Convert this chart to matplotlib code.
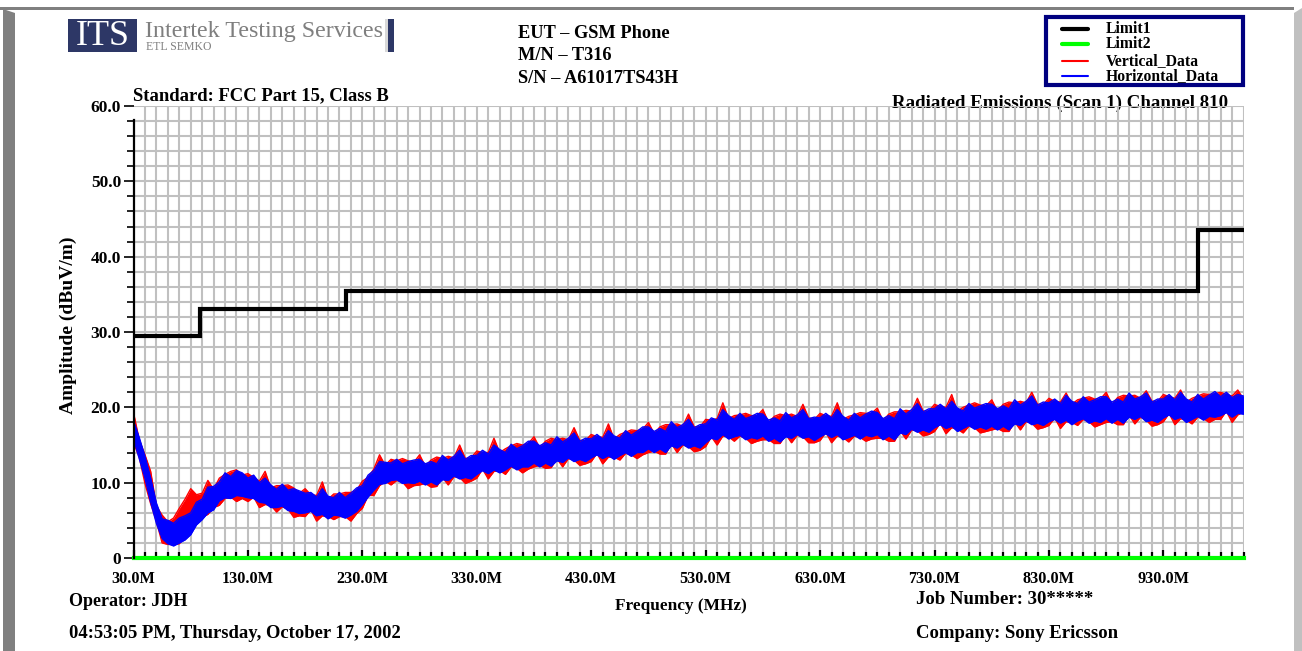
import numpy as np
import matplotlib
matplotlib.use("Agg")
import matplotlib.pyplot as plt
from matplotlib.patches import Rectangle, Polygon
from matplotlib.lines import Line2D

# ---------------- data ----------------
# traces read as max/min envelope of each 5 MHz bin (dBuV/m)
freq_start, freq_stop, freq_step = 30, 1000, 5
limit1_freq = [30, 88, 88, 216, 216, 960, 960, 1000]
limit1_level = [29.5, 29.5, 33.0, 33.0, 35.5, 35.5, 43.5, 43.5]
limit2_freq = [30, 1000]
limit2_level = [0.0, 0.0]

horizontal_max = [
    18.2, 16.0, 13.5, 10.6, 7.3, 5.2, 5.0, 4.6, 5.3, 5.6,
    6.0, 7.4, 7.8, 9.4, 9.5, 10.1, 11.3, 10.8, 11.6, 11.3,
    10.6, 11.0, 10.0, 10.6, 9.7, 9.1, 9.8, 9.0, 9.2, 8.9,
    8.6, 8.7, 8.1, 9.2, 8.2, 8.0, 8.7, 8.0, 8.6, 9.3,
    9.6, 11.0, 11.6, 12.8, 12.7, 12.6, 13.1, 12.5, 12.8, 13.0,
    13.1, 12.5, 12.8, 12.5, 13.6, 13.0, 13.5, 14.3, 13.1, 13.6,
    13.6, 14.3, 13.8, 15.0, 14.4, 14.0, 15.1, 14.5, 14.9, 15.5,
    15.5, 14.9, 15.3, 15.0, 16.1, 15.4, 15.9, 16.6, 15.5, 15.9,
    15.8, 16.4, 15.8, 16.9, 16.2, 15.9, 16.9, 16.3, 16.8, 17.4,
    17.4, 16.8, 17.2, 16.8, 18.1, 17.3, 17.7, 18.4, 17.3, 17.7,
    17.8, 18.6, 18.3, 19.7, 18.9, 18.4, 19.2, 18.5, 18.8, 19.2,
    19.1, 18.3, 18.6, 18.2, 19.3, 18.6, 19.0, 19.7, 18.5, 18.7,
    18.6, 19.2, 18.6, 19.7, 18.8, 18.3, 19.2, 18.6, 19.1, 19.5,
    19.3, 18.5, 18.9, 18.5, 19.8, 19.1, 19.7, 20.5, 19.4, 19.8,
    19.8, 20.4, 19.8, 20.8, 19.9, 19.5, 20.5, 19.9, 20.2, 20.5,
    20.4, 19.8, 20.2, 19.8, 21.0, 20.3, 20.8, 21.5, 20.3, 20.7,
    20.6, 21.1, 20.5, 21.6, 20.8, 20.5, 21.4, 20.7, 21.0, 21.4,
    21.4, 20.7, 21.1, 20.7, 21.9, 21.1, 21.4, 21.9, 20.7, 21.1,
    21.1, 21.7, 21.0, 22.0, 21.1, 20.7, 21.7, 21.1, 21.6, 22.1,
    21.4, 22.0, 21.3, 21.7, 21.5,
]
horizontal_min = [
    15.8, 13.2, 10.6, 7.4, 4.6, 2.6, 1.9, 1.6, 2.0, 2.4,
    3.1, 4.4, 5.1, 6.0, 6.4, 7.6, 8.0, 7.9, 8.3, 8.2,
    8.0, 7.9, 7.4, 7.3, 6.7, 6.7, 6.9, 6.3, 6.2, 5.9,
    6.0, 6.2, 5.6, 5.8, 5.2, 5.7, 5.6, 5.3, 5.7, 6.2,
    7.1, 8.1, 9.0, 9.8, 9.9, 10.3, 10.4, 9.9, 10.0, 9.9,
    10.2, 9.7, 10.1, 9.7, 10.4, 10.3, 10.9, 10.5, 10.7, 10.5,
    11.1, 11.6, 11.2, 11.7, 11.3, 11.7, 12.2, 11.7, 12.1, 12.1,
    12.6, 12.1, 12.6, 12.2, 12.9, 12.7, 13.3, 12.8, 13.1, 12.8,
    13.3, 13.7, 13.2, 13.6, 13.1, 13.6, 14.0, 13.5, 14.0, 14.0,
    14.5, 14.0, 14.5, 14.0, 14.9, 14.6, 15.1, 14.6, 14.9, 14.6,
    15.3, 15.9, 15.7, 16.4, 15.8, 16.1, 16.3, 15.7, 16.0, 15.8,
    16.2, 15.5, 15.9, 15.4, 16.1, 15.9, 16.4, 15.9, 16.1, 15.6,
    16.1, 16.5, 16.0, 16.4, 15.7, 16.0, 16.3, 15.8, 16.3, 16.1,
    16.4, 15.7, 16.2, 15.7, 16.6, 16.4, 17.1, 16.7, 17.0, 16.7,
    17.3, 17.7, 17.2, 17.5, 16.8, 17.2, 17.6, 17.1, 17.4, 17.1,
    17.5, 17.0, 17.5, 17.0, 17.8, 17.6, 18.2, 17.7, 17.9, 17.6,
    18.1, 18.4, 17.9, 18.3, 17.7, 18.2, 18.5, 17.9, 18.2, 18.0,
    18.5, 17.9, 18.4, 17.9, 18.7, 18.4, 18.8, 18.1, 18.3, 18.0,
    18.6, 19.0, 18.4, 18.7, 18.0, 18.4, 18.8, 18.3, 18.8, 18.7,
    18.9, 19.3, 18.7, 19.2, 19.1,
]

vertical_max = [
    19.3, 15.7, 13.7, 11.5, 6.9, 5.7, 4.8, 5.3, 6.6, 7.8,
    9.2, 8.4, 8.6, 10.3, 9.1, 10.6, 11.1, 11.5, 11.7, 11.0,
    11.2, 10.7, 10.2, 11.5, 9.3, 9.6, 9.6, 9.7, 9.3, 8.6,
    9.2, 8.4, 8.3, 10.1, 7.8, 8.5, 8.5, 8.7, 8.7, 9.0,
    10.2, 10.7, 11.8, 13.7, 12.3, 13.1, 12.9, 13.2, 12.9, 12.7,
    13.7, 12.2, 13.0, 13.4, 13.2, 13.5, 13.3, 15.0, 13.2, 13.3,
    14.2, 14.0, 14.0, 15.9, 14.0, 14.5, 14.9, 15.2, 15.0, 15.2,
    16.1, 14.6, 15.5, 15.9, 15.7, 15.9, 15.7, 17.3, 15.6, 15.6,
    16.4, 16.1, 16.0, 17.8, 15.8, 16.4, 16.7, 17.0, 16.9, 17.1,
    18.0, 16.5, 17.4, 17.7, 17.7, 17.8, 17.5, 19.1, 17.4, 17.4,
    18.4, 18.3, 18.5, 20.6, 18.5, 18.9, 19.0, 19.2, 18.9, 18.9,
    19.7, 18.0, 18.8, 19.1, 18.9, 19.1, 18.8, 20.4, 18.6, 18.4,
    19.2, 18.9, 18.8, 20.6, 18.4, 18.8, 19.0, 19.3, 19.2, 19.2,
    19.9, 18.2, 19.1, 19.4, 19.4, 19.6, 19.5, 21.2, 19.5, 19.5,
    20.4, 20.1, 20.0, 21.7, 19.5, 20.0, 20.3, 20.6, 20.3, 20.2,
    21.0, 19.5, 20.4, 20.7, 20.6, 20.8, 20.6, 22.0, 20.4, 20.4,
    21.2, 20.8, 20.7, 21.9, 20.4, 21.0, 21.2, 21.4, 21.1, 21.1,
    22.0, 20.4, 21.3, 21.6, 21.5, 21.6, 21.2, 22.2, 20.8, 20.8,
    21.7, 21.4, 21.2, 22.3, 20.7, 21.2, 21.5, 21.8, 21.7, 21.8,
    22.0, 21.7, 21.5, 22.3, 21.1,
]
vertical_min = [
    15.3, 13.4, 9.9, 7.2, 4.9, 2.0, 1.8, 1.8, 1.9, 2.8,
    3.6, 4.9, 5.4, 5.8, 6.7, 7.0, 7.9, 8.1, 7.5, 7.9,
    7.5, 8.1, 6.7, 7.1, 7.0, 6.1, 6.8, 6.5, 5.4, 5.6,
    5.5, 6.4, 4.9, 5.6, 5.5, 5.1, 5.5, 5.5, 4.9, 5.9,
    6.6, 8.3, 8.3, 9.6, 10.2, 9.7, 10.3, 10.1, 9.2, 9.6,
    9.7, 9.9, 9.4, 9.5, 10.7, 9.7, 10.8, 10.7, 9.9, 10.2,
    10.6, 11.8, 10.5, 11.5, 11.6, 11.1, 12.1, 11.9, 11.3, 11.8,
    12.1, 12.3, 11.9, 12.0, 13.2, 12.1, 13.2, 13.0, 12.3, 12.5,
    12.8, 13.9, 12.5, 13.4, 13.4, 13.0, 13.9, 13.7, 13.2, 13.7,
    14.0, 14.2, 13.8, 13.8, 15.2, 14.0, 15.0, 14.8, 14.1, 14.3,
    14.8, 16.1, 15.0, 16.2, 16.1, 15.5, 16.2, 15.9, 15.2, 15.5,
    15.7, 15.7, 15.2, 15.2, 16.4, 15.3, 16.3, 16.1, 15.3, 15.3,
    15.6, 16.7, 15.3, 16.2, 16.0, 15.4, 16.2, 16.0, 15.5, 15.8,
    15.9, 15.9, 15.5, 15.5, 16.9, 15.8, 17.0, 16.9, 16.2, 16.4,
    16.8, 17.9, 16.5, 17.3, 17.1, 16.6, 17.5, 17.3, 16.6, 16.8,
    17.0, 17.2, 16.8, 16.8, 18.1, 17.0, 18.1, 17.9, 17.1, 17.3,
    17.6, 18.6, 17.2, 18.1, 18.0, 17.6, 18.4, 18.1, 17.4, 17.7,
    18.0, 18.1, 17.7, 17.7, 19.0, 17.8, 18.7, 18.3, 17.5, 17.7,
    18.1, 19.2, 17.7, 18.5, 18.3, 17.8, 18.7, 18.5, 18.0, 18.4,
    18.4, 19.5, 18.0, 19.0, 19.4,
]

y_ticks = [0, 10, 20, 30, 40, 50, 60]
y_tick_labels = ["0", "10.0", "20.0", "30.0", "40.0", "50.0", "60.0"]
x_ticks = [30, 130, 230, 330, 430, 530, 630, 730, 830, 930]
x_tick_labels = ["30.0M", "130.0M", "230.0M", "330.0M", "430.0M", "530.0M",
                 "630.0M", "730.0M", "830.0M", "930.0M"]

freq = np.arange(freq_start, freq_stop + 1, freq_step)

# ---------------- figure ----------------
W, H = 1302, 651
fig = plt.figure(figsize=(W / 100, H / 100), dpi=100)
fig.patch.set_facecolor("white")
SERIF = ["Liberation Serif", "DejaVu Serif"]


def fx(x):
    return x / W


def fy(y):
    return 1 - y / H


# frame bevel
fig.patches.append(Rectangle((0, fy(10)), fx(1294), 3 / H, transform=fig.transFigure,
                             facecolor="#808080", edgecolor="none", zorder=0))
fig.patches.append(Polygon([(fx(3), fy(651)), (fx(3), fy(9)), (fx(15), fy(13)), (fx(15), fy(651))],
                           closed=True, transform=fig.transFigure,
                           facecolor="#808080", edgecolor="none", zorder=0))
fig.patches.append(Polygon([(fx(1294), fy(651)), (fx(1294), fy(13)), (fx(1302), fy(8)), (fx(1302), fy(651))],
                           closed=True, transform=fig.transFigure,
                           facecolor="#c0c0c0", edgecolor="none", zorder=0))

# logo
fig.patches.append(Rectangle((fx(68), fy(52)), 69 / W, 33 / H, transform=fig.transFigure,
                             facecolor="#2d3766", edgecolor="none"))
fig.text(fx(103), fy(36.5), "ITS", color="white", fontsize=26, family=SERIF,
         ha="center", va="center")
fig.text(fx(145), fy(37.5), "Intertek Testing Services", color="#7f7f7f", fontsize=17.3,
         family=SERIF, ha="left", va="baseline")
fig.text(fx(146), fy(50), "ETL SEMKO", color="#7f7f7f", fontsize=8.5,
         family=SERIF, ha="left", va="baseline")
fig.patches.append(Rectangle((fx(385), fy(52)), 3 / W, 33 / H, transform=fig.transFigure,
                             facecolor="#d8d8d8", edgecolor="none"))
fig.patches.append(Rectangle((fx(388), fy(52)), 6 / W, 33 / H, transform=fig.transFigure,
                             facecolor="#2d3766", edgecolor="none"))

# header text
for txt, yb in [("EUT \u2013 GSM Phone", 38), ("M/N \u2013 T316", 60), ("S/N \u2013 A61017TS43H", 83)]:
    fig.text(fx(518), fy(yb), txt, fontsize=13.2, fontweight="bold", family=SERIF,
             ha="left", va="baseline")

fig.text(fx(133), fy(100), "Standard: FCC Part 15, Class B", fontsize=13.4,
         fontweight="bold", family=SERIF, ha="left", va="baseline")

# legend
fig.patches.append(Rectangle((fx(1046), fy(85)), 197 / W, 68 / H, transform=fig.transFigure,
                             facecolor="white", edgecolor="#000080", linewidth=3))
leg_items = [("Limit1", "black", 3.0, 29), ("Limit2", "#00ff00", 3.0, 44),
             ("Vertical_Data", "red", 1.5, 61), ("Horizontal_Data", "blue", 1.5, 76)]
for name, col, lw, yc in leg_items:
    fig.add_artist(Line2D([fx(1062), fx(1088)], [fy(yc), fy(yc)], color=col, lw=lw,
                          transform=fig.transFigure, solid_capstyle="round"))
    fig.text(fx(1106), fy(yc), name, fontsize=11.3, fontweight="bold", family=SERIF,
             ha="left", va="center")

# ---------------- axes ----------------
ax_l, ax_r, ax_t, ax_b = 133.5, 1243.5, 106, 558
ax = fig.add_axes([fx(ax_l), fy(ax_b), (ax_r - ax_l) / W, (ax_b - ax_t) / H])
ax.set_xlim(freq_start, freq_stop)
ax.set_ylim(0, 60)
for s in ax.spines.values():
    s.set_visible(False)

grid_col = "#c0c0c0"
for xv in np.arange(40, 1001, 10):
    ax.axvline(xv, color=grid_col, lw=1.5, zorder=1)
for yv in np.arange(2, 61, 2):
    ax.axhline(yv, color=grid_col, lw=1.5, zorder=1)

ax.fill_between(freq, vertical_min, vertical_max, color="red", lw=0, zorder=3)
ax.plot(freq, vertical_max, color="red", lw=1.0, zorder=3)
ax.plot(freq, vertical_min, color="red", lw=1.0, zorder=3)
ax.fill_between(freq, horizontal_min, horizontal_max, color="blue", lw=0, zorder=4)
ax.plot(freq, horizontal_max, color="blue", lw=1.0, zorder=4)
ax.plot(freq, horizontal_min, color="blue", lw=1.0, zorder=4)

ax.plot(limit1_freq, limit1_level, color="black", lw=3, zorder=5,
        solid_joinstyle="miter")
ax.plot(limit2_freq, limit2_level, color="#00ff00", lw=3, zorder=6, clip_on=False)
ax.plot([30, 30], [0, 58.2], color="black", lw=1.6, zorder=7, clip_on=False)

ax.set_yticks(y_ticks)
ax.set_yticklabels(y_tick_labels)
ax.set_yticks(np.arange(0, 61, 2), minor=True)
ax.set_xticks(x_ticks)
ax.set_xticklabels(x_tick_labels)
ax.set_xticks(np.arange(30, 1001, 10), minor=True)
ax.tick_params(axis="y", which="major", direction="out", length=7, width=1.2, pad=2,
               labelsize=12.5)
ax.tick_params(axis="y", which="minor", direction="out", length=5, width=1.2)
ax.tick_params(axis="x", which="major", direction="in", length=6, width=1.6, pad=9.5,
               labelsize=11.7)
ax.tick_params(axis="x", which="minor", direction="in", length=4, width=1.6)
for lab in ax.get_xticklabels() + ax.get_yticklabels():
    lab.set_fontweight("bold")
    lab.set_family(SERIF)

ax.text(1000 - 13, 60.3, "Radiated Emissions (Scan 1) Channel 810", fontsize=13.6,
        fontweight="bold", family=SERIF, ha="right", va="center", zorder=0, clip_on=False)

fig.text(fx(68), fy(325), "Amplitude (dBuV/m)", rotation=90, fontsize=14,
         fontweight="bold", family=SERIF, ha="center", va="center")
fig.text(fx(681), fy(606), "Frequency (MHz)", fontsize=12.4, fontweight="bold",
         family=SERIF, ha="center", va="center")
fig.text(fx(69), fy(601), "Operator: JDH", fontsize=13, fontweight="bold",
         family=SERIF, ha="left", va="center")
fig.text(fx(69), fy(634), "04:53:05 PM, Thursday, October 17, 2002", fontsize=13.4,
         fontweight="bold", family=SERIF, ha="left", va="center")
fig.text(fx(916), fy(600), "Job Number: 30*****", fontsize=13.5, fontweight="bold",
         family=SERIF, ha="left", va="center")
fig.text(fx(916), fy(634), "Company: Sony Ericsson", fontsize=13.5, fontweight="bold",
         family=SERIF, ha="left", va="center")

fig.savefig("out.png", dpi=100)
